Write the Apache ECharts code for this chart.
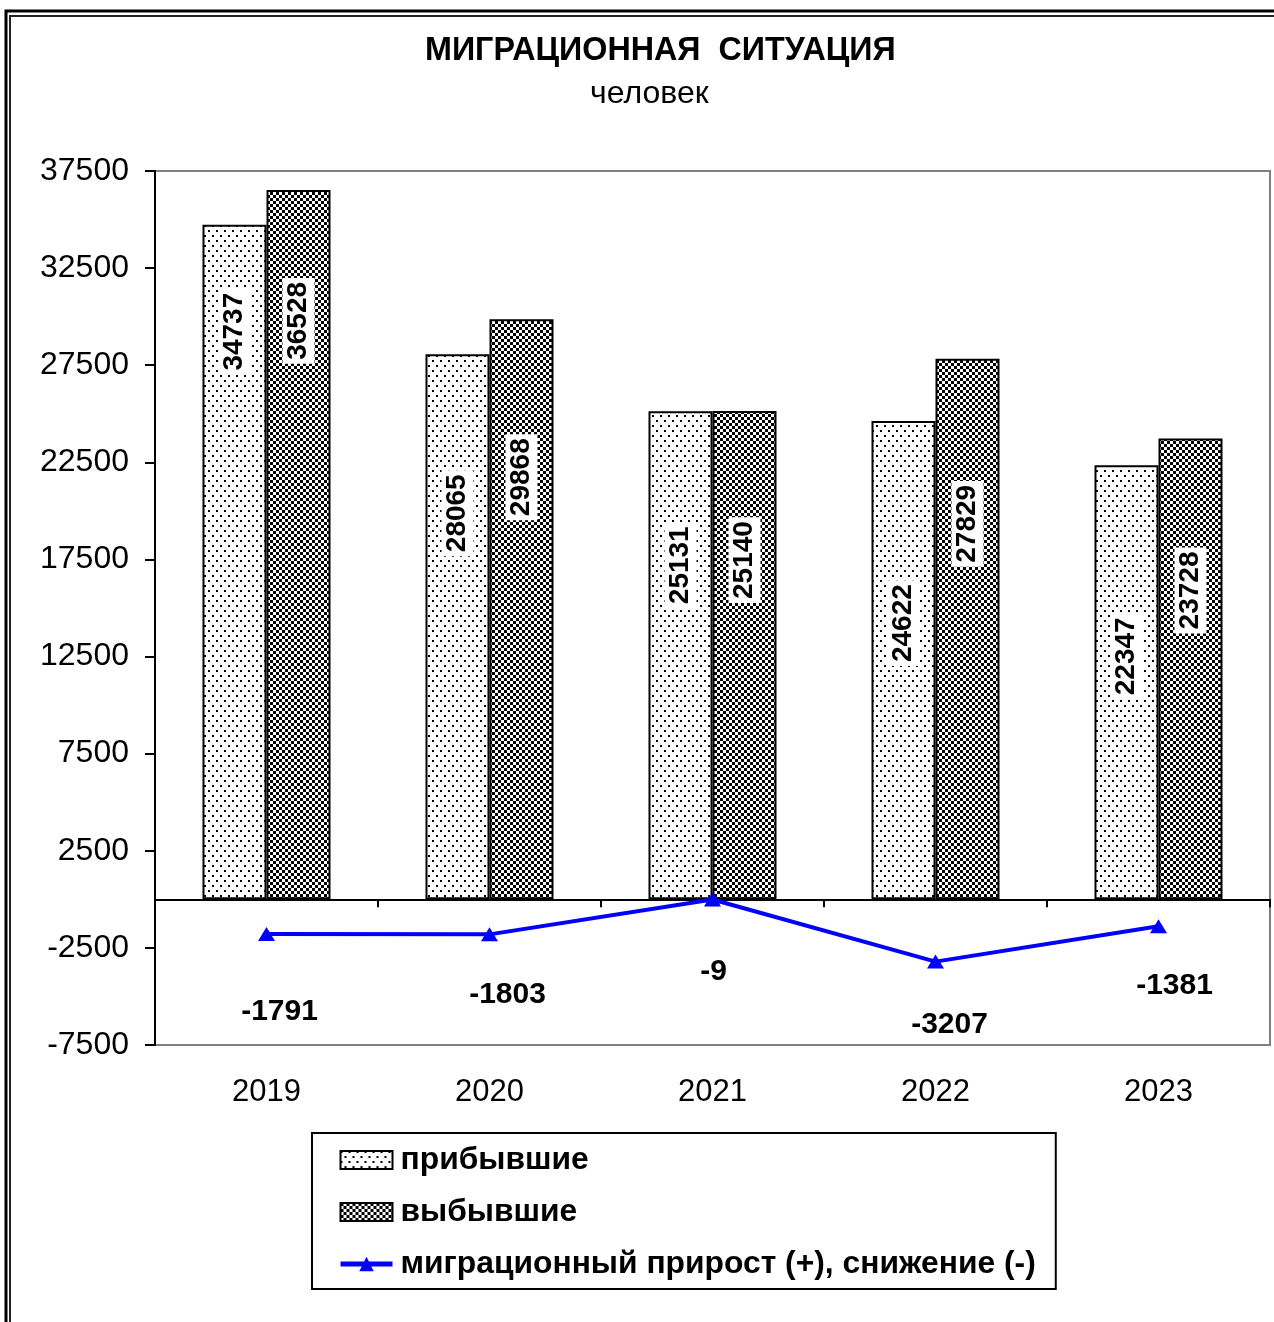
<!DOCTYPE html>
<html><head><meta charset="utf-8">
<script src="https://cdn.jsdelivr.net/npm/echarts@6/dist/echarts.min.js"></script>
<style>html,body{margin:0;padding:0;background:#fff}#c{width:1274px;height:1322px}</style>
</head><body><div id="c"></div>
<script>
const years = ['2019', '2020', '2021', '2022', '2023'];
const arrived = [34737, 28065, 25131, 24622, 22347];
const departed = [36528, 29868, 25140, 27829, 23728];
const netChange = [-1791, -1803, -9, -3207, -1381];
const seriesNames = ['прибывшие', 'выбывшие', 'миграционный прирост (+), снижение (-)'];
const yMin = -7500, yMax = 37500, yStep = 5000;

// label placement only (not data)
const arrivedLabelFromTop = [107, 159, 154, 202, 191];
const departedLabelFromTop = [131, 158, 149, 165, 152];
const netLabelOffsets = [[13, 78], [18, 60], [1, 72], [14, 63], [16, 60]];

const FONT = '"Liberation Sans", Arial, sans-serif';

function dotPattern() {
  const c = document.createElement('canvas'); c.width = 8; c.height = 10;
  const g = c.getContext('2d');
  g.fillStyle = '#fff'; g.fillRect(0, 0, 8, 10);
  g.fillStyle = '#000'; g.fillRect(0, 0, 2, 2); g.fillRect(4, 5, 2, 2);
  return { image: c, repeat: 'repeat' };
}
function checkPattern() {
  const c = document.createElement('canvas'); c.width = 6; c.height = 6;
  const g = c.getContext('2d');
  g.fillStyle = '#fff'; g.fillRect(0, 0, 6, 6);
  g.fillStyle = '#000'; g.fillRect(0, 0, 3, 3); g.fillRect(3, 3, 3, 3);
  return { image: c, repeat: 'repeat' };
}

function barLabel(fromTop) {
  return {
    show: true, position: ['50%', fromTop], rotate: 90,
    align: 'center', verticalAlign: 'middle',
    color: '#000', fontWeight: 'bold', fontSize: 28, fontFamily: FONT,
    backgroundColor: '#fff', padding: [3, 4, 1, 4]
  };
}

const chart = echarts.init(document.getElementById('c'), null, { renderer: 'canvas' });
chart.setOption({
  animation: false,
  backgroundColor: '#fff',
  graphic: [
    { type: 'rect', shape: { x: 6, y: 11, width: 1400, height: 1400 }, style: { fill: 'none', stroke: '#000', lineWidth: 3 }, silent: true },
    { type: 'rect', shape: { x: 10, y: 16, width: 1400, height: 1400 }, style: { fill: 'none', stroke: '#222', lineWidth: 2 }, silent: true }
  ],
  title: [
    { text: 'МИГРАЦИОННАЯ  СИТУАЦИЯ', left: 425, top: 35, textStyle: { fontFamily: FONT, fontSize: 32.3, fontWeight: 'bold', color: '#000' }, padding: 0 },
    { text: 'человек', left: 590, top: 78, textStyle: { fontFamily: FONT, fontSize: 32, fontWeight: 'normal', color: '#000' }, padding: 0 }
  ],
  grid: {
    left: 155, right: 4, top: 171, bottom: 277,
    show: true, borderColor: '#808080', borderWidth: 2, backgroundColor: 'transparent'
  },
  legend: {
    orient: 'vertical', left: 312, top: 1133,
    padding: [11, 20, 9, 26],
    borderColor: '#000', borderWidth: 2,
    itemWidth: 52, itemHeight: 18, itemGap: 20,
    textStyle: { fontFamily: FONT, fontSize: 31.8, fontWeight: 'bold', color: '#000', lineHeight: 31, padding: [0, 0, 0, 3] },
    data: [
      { name: seriesNames[0], icon: 'rect' },
      { name: seriesNames[1], icon: 'rect' },
      { name: seriesNames[2], lineStyle: { width: 5, color: '#0000ff' } }
    ]
  },
  xAxis: [
    {
      type: 'category', data: years, gridIndex: 0,
      axisLine: { onZero: true, lineStyle: { color: '#000', width: 2 } },
      axisTick: { show: true, length: 8, lineStyle: { color: '#000', width: 2 } },
      axisLabel: { show: false }, splitLine: { show: false }
    },
    {
      type: 'category', data: years, gridIndex: 0, position: 'bottom',
      axisLine: { show: false, onZero: false }, axisTick: { show: false },
      axisLabel: { show: true, margin: 32, fontFamily: FONT, fontSize: 31, color: '#000' },
      splitLine: { show: false }
    }
  ],
  yAxis: {
    type: 'value', min: yMin, max: yMax, interval: yStep,
    axisLine: { show: true, lineStyle: { color: '#000', width: 2 } },
    axisTick: { show: true, length: 10, lineStyle: { color: '#000', width: 2 } },
    axisLabel: { margin: 26, fontFamily: FONT, fontSize: 32, color: '#000', formatter: v => String(v) },
    splitLine: { show: false }
  },
  series: [
    {
      name: seriesNames[0], type: 'bar', xAxisIndex: 0, barGap: '0%', barCategoryGap: '42.6%',
      itemStyle: { color: dotPattern(), borderColor: '#000', borderWidth: 2 },
      data: arrived.map((v, i) => ({ value: v, label: barLabel(arrivedLabelFromTop[i]) })),
      z: 2
    },
    {
      name: seriesNames[1], type: 'bar', xAxisIndex: 0, barGap: '0%', barCategoryGap: '42.6%',
      itemStyle: { color: checkPattern(), borderColor: '#000', borderWidth: 2 },
      data: departed.map((v, i) => ({ value: v, label: barLabel(departedLabelFromTop[i]) })),
      z: 2
    },
    {
      name: seriesNames[2], type: 'line', xAxisIndex: 0,
      symbol: 'triangle', symbolSize: [17, 14],
      lineStyle: { color: '#0000ff', width: 4 },
      itemStyle: { color: '#0000ff' },
      data: netChange.map((v, i) => ({
        value: v,
        label: {
          show: true, position: 'inside', offset: netLabelOffsets[i],
          color: '#000', fontWeight: 'bold', fontSize: 30, fontFamily: FONT
        }
      })),
      z: 5
    }
  ]
});
</script></body></html>
